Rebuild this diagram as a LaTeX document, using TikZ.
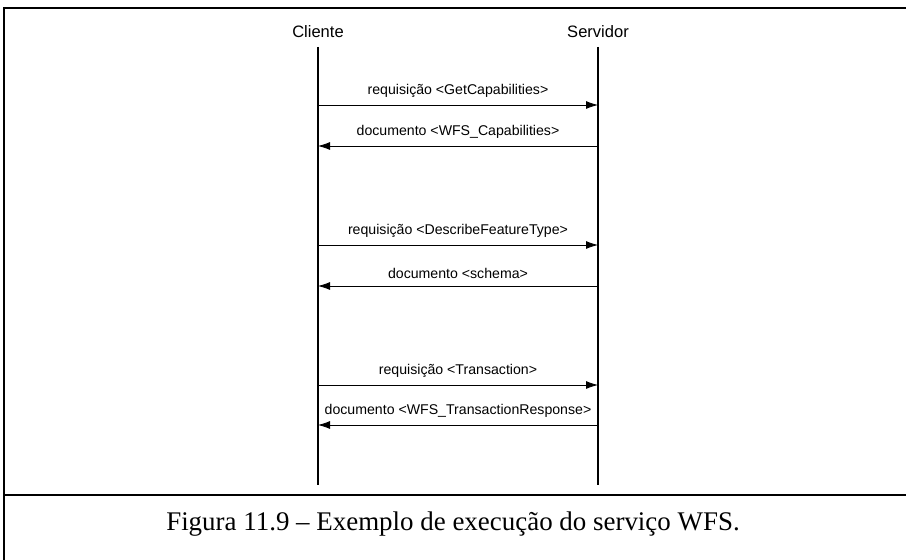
\documentclass[tikz,border=0pt]{standalone}
\usepackage{fontspec}
\setmainfont{Liberation Serif}
\setsansfont{Liberation Sans}
\usetikzlibrary{positioning,arrows.meta}

\begin{document}
\begin{tikzpicture}[x=0.75pt, y=-0.75pt,
  every node/.style = {font = \sffamily\fontsize{10.6}{12}\selectfont, inner sep = 1pt},
  actor/.style = {font = \sffamily\fontsize{12.4}{14}\selectfont},
  frameline/.style = {line width = 1.5pt},
  lifeline/.style = {line width = 1pt},
  msg/.style = {line width = 0.6pt, -{Latex[length = 9pt, width = 6pt]}}]
  \useasboundingbox (0,0) rectangle (906,560);
  \draw[frameline] (4,562) -- (4,8) -- (908,8);
  \draw[frameline] (4,495) -- (908,495);

  % actors and lifelines
  \node (cliente)  at (318,32) [actor] {Cliente};
  \node (servidor) at (598,32) [actor] {Servidor};
  \coordinate (ctop) at (318,47);
  \coordinate (cbot) at (318,485);
  \coordinate (stop) at (598,47);
  \coordinate (sbot) at (598,485);
  \draw[lifeline] (ctop) -- (cbot);
  \draw[lifeline] (stop) -- (sbot);

  \foreach \i/\y in {1/105, 2/146, 3/245, 4/286, 5/385, 6/425} {
    \coordinate (c\i) at (318,\y);
    \coordinate (s\i) at (598,\y);
  }

  % messages
  \draw[msg] (c1) -- node[above = 4.5pt] {requisição <GetCapabilities>} (s1);
  \draw[msg] (s2) -- node[above = 4.5pt] {documento <WFS\_Capabilities>} (c2);
  \draw[msg] (c3) -- node[above = 4.5pt] {requisição <DescribeFeatureType>} (s3);
  \draw[msg] (s4) -- node[above = 4.5pt] {documento <schema>} (c4);
  \draw[msg] (c5) -- node[above = 4.5pt] {requisição <Transaction>} (s5);
  \draw[msg] (s6) -- node[above = 4.5pt] {documento <WFS\_TransactionResponse>} (c6);

  \node (legenda) at (453,524) [font = \rmfamily\fontsize{20.2}{24}\selectfont]
    {Figura 11.9 – Exemplo de execução do serviço WFS.};
\end{tikzpicture}
\end{document}
